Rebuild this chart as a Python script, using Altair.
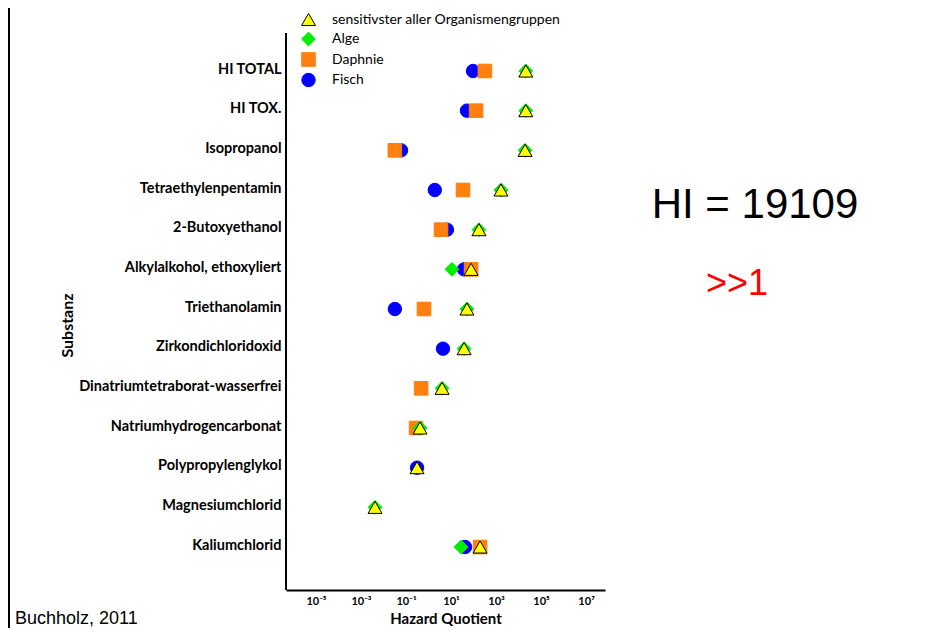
import altair as alt
import pandas as pd

categories = ["HI TOTAL", "HI TOX.", "Isopropanol", "Tetraethylenpentamin", "2-Butoxyethanol",
              "Alkylalkohol, ethoxyliert", "Triethanolamin", "Zirkondichloridoxid",
              "Dinatriumtetraborat-wasserfrei", "Natriumhydrogencarbonat", "Polypropylenglykol",
              "Magnesiumchlorid", "Kaliumchlorid"]

# Hazard quotients (None = no point)
fisch   = [95, 51, 0.06, 1.9, 6.6, 38, 0.032, 4.4, None, None, 0.31, None, 42]
daphnie = [320, 130, 0.032, 34, 3.6, 78, 0.63, None, 0.47, 0.28, None, None, 195]
alge    = [21000, 21000, 19500, 1660, 174, 11, 51, 38, 4.0, 0.42, None, 0.0042, 28]
sens    = [21000, 21000, 19500, 1660, 174, 78, 51, 38, 4.0, 0.42, 0.31, 0.0042, 195]

series_names = ["sensitivster aller Organismengruppen", "Alge", "Daphnie", "Fisch"]
series_colors = ["#ffff00", "#00ee00", "#ff7f0f", "#0000ff"]
series_strokes = ["#000000", "#00ee00", "#ff7f0f", "#0000ff"]
series_shapes = ["triangle-up", "diamond", "square", "circle"]
series_sizes = [196, 180, 121, 144]

tick_values = [1e-5, 1e-3, 1e-1, 1e1, 1e3, 1e5, 1e7]

hi_text = ["HI = 19109"]
hi_note = [">>1"]
source_text = ["Buchholz, 2011"]

rows = []
# drawing order: Fisch, Daphnie, Alge, sensitivster (on top)
for name, vals in [("Fisch", fisch), ("Daphnie", daphnie), ("Alge", alge),
                   ("sensitivster aller Organismengruppen", sens)]:
    for c, v in zip(categories, vals):
        if v is not None:
            rows.append({"Substanz": c, "HQ": v, "Gruppe": name})
df = pd.DataFrame(rows)

sup = "['⁻⁵','⁻⁴','⁻³','⁻²','⁻¹','⁰','¹','²','³','⁴','⁵','⁶','⁷'][round(log(datum.value)/LN10)+5]"


def leg():
    return alt.Legend(title=None, orient="none", legendX=15, legendY=-21,
                      labelFont="Lato", labelFontSize=14, labelColor="black", labelLimit=0,
                      rowPadding=1.5, labelOffset=16, padding=0,
                      symbolStrokeWidth=1)


points = alt.Chart(df).mark_point(filled=True, opacity=1, strokeWidth=1).encode(
    x=alt.X("HQ:Q", title="Hazard Quotient",
            scale=alt.Scale(type="log", domain=[10 ** -6.33, 10 ** 7.84], nice=False),
            axis=alt.Axis(values=tick_values, labelExpr="'10' + " + sup, grid=False, ticks=False,
                          domainColor="black", domainWidth=2, labelFont="Lato", labelFontWeight="bold",
                          labelFontSize=11, labelColor="black", labelPadding=5,
                          titleFont="Lato", titleFontSize=15, titleFontWeight="bold",
                          titleColor="black", titlePadding=5)),
    y=alt.Y("Substanz:N", sort=categories, title="Substanz",
            scale=alt.Scale(type="point", range=[38, 514], padding=0),
            axis=alt.Axis(ticks=False, grid=False, domain=False,
                          labelFont="Lato", labelFontWeight="bold", labelFontSize=14.5,
                          labelColor="black", labelPadding=5, labelOffset=-2, labelLimit=400,
                          titleFont="Lato", titleFontSize=16, titleFontWeight="bold",
                          titleColor="black", titleAngle=270, titleX=-214, titleY=292,
                          titleAlign="center", titleBaseline="alphabetic")),
    color=alt.Color("Gruppe:N", scale=alt.Scale(domain=series_names, range=series_colors), legend=leg()),
    shape=alt.Shape("Gruppe:N", scale=alt.Scale(domain=series_names, range=series_shapes), legend=leg()),
    stroke=alt.Stroke("Gruppe:N", scale=alt.Scale(domain=series_names, range=series_strokes), legend=leg()),
    size=alt.Size("Gruppe:N", scale=alt.Scale(domain=series_names, range=series_sizes), legend=leg()),
)

yaxis_line = alt.Chart(alt.Data(values=[{}])).mark_rule(color="black", strokeWidth=2).encode(
    x=alt.value(0), y=alt.value(0), y2=alt.value(557))

hi = alt.Chart(pd.DataFrame({"t": hi_text})).mark_text(
    font="Liberation Sans", fontSize=42, color="black", align="center", baseline="alphabetic"
).encode(text="t:N", x=alt.value(469), y=alt.value(185))

note = alt.Chart(pd.DataFrame({"t": hi_note})).mark_text(
    font="Liberation Sans", fontSize=36, color="#ff0000", align="center", baseline="alphabetic"
).encode(text="t:N", x=alt.value(451), y=alt.value(262))

src = alt.Chart(pd.DataFrame({"t": source_text})).mark_text(
    font="Liberation Sans", fontSize=18, color="black", align="left", baseline="alphabetic"
).encode(text="t:N", x=alt.value(-271), y=alt.value(591))

frame = alt.Chart(alt.Data(values=[{}])).mark_rule(color="black", strokeWidth=2).encode(
    x=alt.value(-277), y=alt.value(-25), y2=alt.value(595))

chart = alt.layer(frame, yaxis_line, points, hi, note, src).properties(
    width=319, height=557,
    autosize=alt.AutoSizeParams(type="none"),
    padding={"left": 278, "top": 25, "right": 330, "bottom": 38},
).configure_view(stroke=None)

chart.save("out.html", embed_options={"renderer": "svg", "actions": False})
